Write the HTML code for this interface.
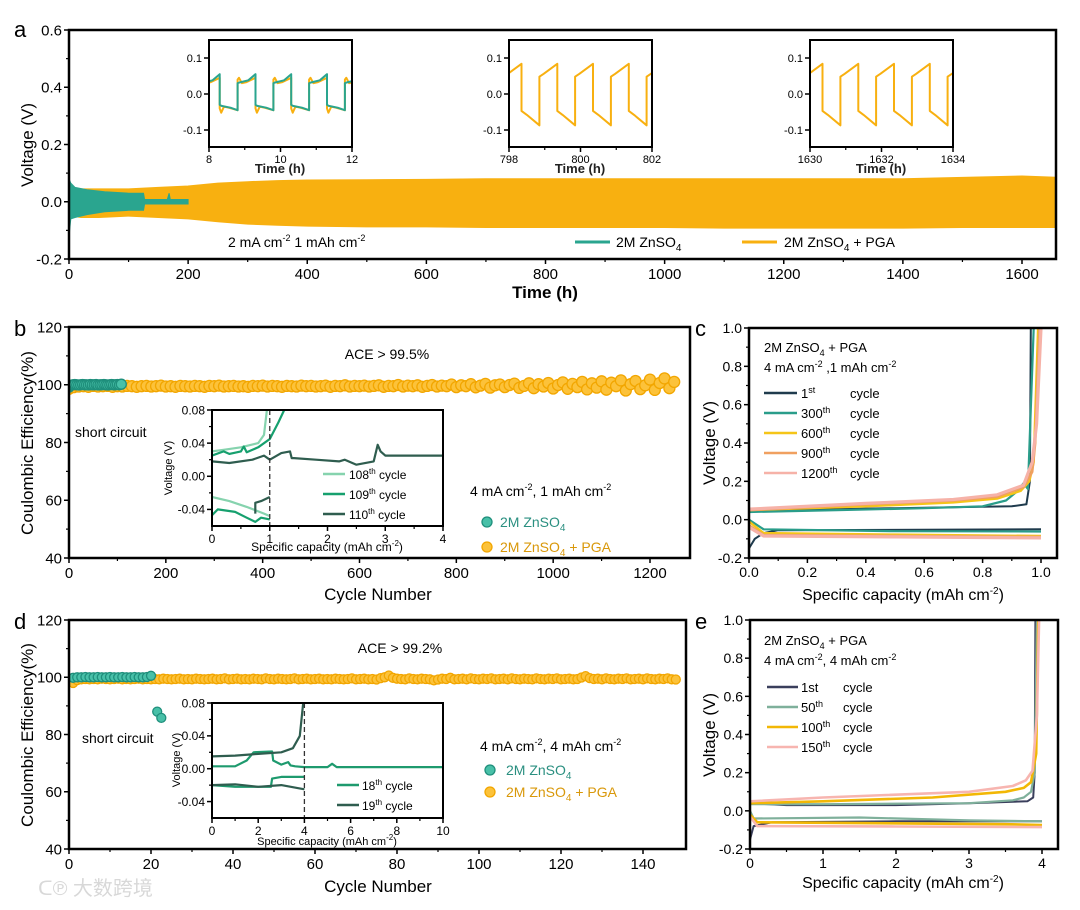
<!DOCTYPE html>
<html><head><meta charset="utf-8">
<style>
html,body{margin:0;padding:0;background:#fff;}
svg{display:block;font-family:"Liberation Sans","Noto Sans CJK SC",sans-serif;}
</style></head>
<body>
<svg id="fig" width="1080" height="910" viewBox="0 0 1080 910" xmlns="http://www.w3.org/2000/svg">
<rect x="0" y="0" width="1080" height="910" fill="#fff"/>
<text x="14" y="37" font-size="22">a</text>
<text x="14" y="336" font-size="22">b</text>
<text x="695" y="336" font-size="22">c</text>
<text x="14" y="629" font-size="22">d</text>
<text x="695" y="629" font-size="22">e</text>

<text x="545" y="298" font-size="17" font-weight="bold" text-anchor="middle">Time (h)</text>
<text transform="translate(33,145) rotate(-90)" font-size="17" text-anchor="middle">Voltage (V)</text>
<text x="228" y="247" font-size="14">2 mA cm<tspan dy="-6" font-size="9">-2</tspan><tspan dy="6"> 1 mAh cm</tspan><tspan dy="-6" font-size="9">-2</tspan></text>
<line x1="575" y1="242" x2="610" y2="242" stroke="#2aa58f" stroke-width="3"/>
<text x="616" y="247" font-size="14">2M ZnSO<tspan dy="4" font-size="10">4</tspan></text>
<line x1="742" y1="242" x2="777" y2="242" stroke="#f8b010" stroke-width="3"/>
<text x="784" y="247" font-size="14">2M ZnSO<tspan dy="4" font-size="10">4</tspan><tspan dy="-4"> + PGA</tspan></text>

<text x="378" y="600" font-size="17" text-anchor="middle">Cycle Number</text>
<text transform="translate(33,443) rotate(-90)" font-size="17" text-anchor="middle">Coulombic Efficiency(%)</text>
<text x="387" y="359" font-size="14" text-anchor="middle">ACE &gt; 99.5%</text>
<text x="75" y="437" font-size="14">short circuit</text>
<text x="470" y="496" font-size="14">4 mA cm<tspan dy="-6" font-size="9">-2</tspan><tspan dy="6">, 1 mAh cm</tspan><tspan dy="-6" font-size="9">-2</tspan></text>
<text x="500" y="527" font-size="14" fill="#2a8f80">2M ZnSO<tspan dy="4" font-size="10">4</tspan></text>
<text x="500" y="552" font-size="14" fill="#d9980a">2M ZnSO<tspan dy="4" font-size="10">4</tspan><tspan dy="-4"> + PGA</tspan></text>

<text x="903" y="600" font-size="16" text-anchor="middle">Specific capacity (mAh cm<tspan dy="-6" font-size="10">-2</tspan><tspan dy="6">)</tspan></text>
<text transform="translate(715,443) rotate(-90)" font-size="17" text-anchor="middle">Voltage (V)</text>
<text x="764" y="352" font-size="13">2M ZnSO<tspan dy="4" font-size="9">4</tspan><tspan dy="-4"> + PGA</tspan></text>
<text x="764" y="372" font-size="13">4 mA cm<tspan dy="-5" font-size="9">-2</tspan><tspan dy="5"> ,1 mAh cm</tspan><tspan dy="-5" font-size="9">-2</tspan></text>

<text x="378" y="892" font-size="17" text-anchor="middle">Cycle Number</text>
<text transform="translate(33,735) rotate(-90)" font-size="17" text-anchor="middle">Coulombic Efficiency(%)</text>
<text x="400" y="653" font-size="14" text-anchor="middle">ACE &gt; 99.2%</text>
<text x="82" y="743" font-size="14">short circuit</text>
<text x="480" y="751" font-size="14">4 mA cm<tspan dy="-6" font-size="9">-2</tspan><tspan dy="6">, 4 mAh cm</tspan><tspan dy="-6" font-size="9">-2</tspan></text>
<text x="506" y="775" font-size="14" fill="#2a8f80">2M ZnSO<tspan dy="4" font-size="10">4</tspan></text>
<text x="506" y="797" font-size="14" fill="#d9980a">2M ZnSO<tspan dy="4" font-size="10">4</tspan><tspan dy="-4"> + PGA</tspan></text>

<text x="903" y="888" font-size="16" text-anchor="middle">Specific capacity (mAh cm<tspan dy="-6" font-size="10">-2</tspan><tspan dy="6">)</tspan></text>
<text transform="translate(715,735) rotate(-90)" font-size="17" text-anchor="middle">Voltage (V)</text>
<text x="764" y="645" font-size="13">2M ZnSO<tspan dy="4" font-size="9">4</tspan><tspan dy="-4"> + PGA</tspan></text>
<text x="764" y="665" font-size="13">4 mA cm<tspan dy="-5" font-size="9">-2</tspan><tspan dy="5">, 4 mAh cm</tspan><tspan dy="-5" font-size="9">-2</tspan></text>

<text x="38" y="895" font-size="20" fill="#d8d8d8">ᑕ℗ 大数跨境</text>
</svg>
<script>
const aTimePGA=[0,2,5,20,50,100,150,200,250,300,350,400,500,600,700,800,900,1000,1100,1200,1300,1400,1500,1600,1665];
const aUpPGA=[0.05,0.05,0.05,0.045,0.045,0.045,0.05,0.055,0.065,0.07,0.074,0.076,0.077,0.078,0.08,0.08,0.08,0.08,0.08,0.08,0.08,0.08,0.085,0.09,0.085];
const aLoPGA=[-0.05,-0.05,-0.05,-0.055,-0.055,-0.05,-0.055,-0.06,-0.07,-0.078,-0.082,-0.085,-0.088,-0.088,-0.09,-0.09,-0.09,-0.09,-0.092,-0.092,-0.092,-0.092,-0.09,-0.09,-0.09];
const aTimeZn=[0,1,3,10,30,60,100,125,127,165,168,170,172,175,200];
const aUpZn=[0.0,0.075,0.065,0.05,0.042,0.035,0.03,0.03,0.008,0.008,0.03,0.008,0.008,0.008,0.008];
const aLoZn=[-0.15,-0.1,-0.06,-0.055,-0.045,-0.035,-0.03,-0.03,-0.008,-0.008,-0.008,-0.008,-0.008,-0.008,-0.008];
const aXTicks=[0,200,400,600,800,1000,1200,1400,1600];
const aYTicks=[-0.2,0.0,0.2,0.4,0.6];
const tealUpPhase=[0,0.05,0.3,0.5], tealUpV=[0.03,0.032,0.038,0.055];
const tealDnPhase=[0,0.05,0.3,0.5], tealDnV=[-0.03,-0.033,-0.038,-0.045];
const orgUpPhase=[0,0.04,0.12,0.25,0.5], orgUpV=[0.04,0.045,0.03,0.033,0.045];
const orgDnPhase=[0,0.04,0.12,0.25,0.5], orgDnV=[-0.04,-0.052,-0.035,-0.038,-0.045];
const longUpPhase=[0,0.12,0.5], longUpV=[0.048,0.056,0.084];
const longDnPhase=[0,0.15,0.5], longDnV=[-0.047,-0.058,-0.087];
const inset1Starts=[7.8,8.8,9.8,10.8,11.8];
const inset2Starts=[797.85,798.85,799.85,800.85,801.85];
const inset3Starts=[1629.85,1630.85,1631.85,1632.85,1633.85];
const bCyclesPGA=[];for(let i=0;i<=125;i++)bCyclesPGA.push(i*10);
const bCEPGA=[98.6,99.2,99.4,99.5,99.3,99.6,99.4,99.5,99.6,99.3,99.5,99.4,99.6,99.5,99.3,99.5,99.6,99.4,99.5,99.7,99.4,99.5,99.3,99.6,99.5,99.4,99.6,99.5,99.3,99.6,99.5,99.7,99.4,99.5,99.6,99.4,99.5,99.3,99.6,99.5,99.7,99.4,99.6,99.5,99.3,99.6,99.5,99.4,99.7,99.5,99.6,99.4,99.5,99.7,99.3,99.6,99.5,99.8,99.4,99.6,99.5,99.7,99.4,99.6,99.8,99.3,99.6,99.5,99.9,99.4,99.7,99.5,99.8,99.3,99.6,99.9,99.4,99.7,99.5,100.1,99.2,99.8,99.5,100.2,99.1,99.7,100.3,99.0,99.8,100.1,99.2,99.9,100.4,98.9,99.6,100.5,98.8,100.2,99.4,100.6,98.7,99.9,100.8,98.6,100.3,99.2,101.0,98.4,100.5,99.0,101.2,98.3,100.7,99.5,101.5,98.0,100.2,101.3,98.5,99.8,101.8,98.2,100.6,102.2,98.8,101.0];
const bCyclesZn=[];for(let i=0;i<=27;i++)bCyclesZn.push(i*4);
const bCEZn=[99.2,99.8,100.0,100.1,100.0,99.9,100.0,100.1,100.0,100.0,99.9,100.1,100.0,100.0,100.1,99.9,100.0,100.0,100.1,100.0,99.9,100.0,100.1,100.0,100.0,100.1,100.0,100.2];
const bXTicks=[0,200,400,600,800,1000,1200];
const bYTicks=[40,60,80,100,120];
const ibCap108c=[0,0.2,0.5,0.8,0.9,0.95], ibV108c=[0.03,0.032,0.035,0.04,0.05,0.08];
const ibCap108d=[0,0.3,0.6,0.9,1.0], ibV108d=[-0.025,-0.03,-0.037,-0.045,-0.048];
const ibCap109c=[0,0.2,0.3,0.5,0.55,0.6,0.8,1.0,1.15,1.25], ibV109c=[0.025,0.03,0.027,0.03,0.036,0.029,0.035,0.045,0.065,0.08];
const ibCap109d=[0,0.1,0.4,0.6,0.75,0.85,1.0], ibV109d=[-0.047,-0.04,-0.043,-0.05,-0.055,-0.05,-0.052];
const ibCap110c=[0,0.3,0.7,0.9,1.0,1.2,1.35,1.38,1.42,1.8,2.2,2.3,2.5,2.8,2.87,2.92,3.0,4.0], ibV110c=[0.018,0.016,0.02,0.025,0.02,0.028,0.03,0.022,0.022,0.02,0.018,0.02,0.014,0.018,0.038,0.03,0.025,0.025];
const ibCap110d=[0.75,0.75,0.85,1.0], ibV110d=[-0.045,-0.032,-0.03,-0.025];
const ibXTicks=[0,1,2,3,4];
const ibYTicks=[-0.04,0.0,0.04,0.08];
const ibYLabels=["-0.04","0.00","0.04","0.08"];
const cCap1c=[0,0.1,0.5,0.9,0.95,0.962,0.965], cV1c=[0.04,0.05,0.06,0.07,0.08,0.2,1.0];
const cCap1d=[0,0.02,0.05,0.1,1.0], cV1d=[-0.15,-0.1,-0.07,-0.055,-0.05];
const cCap300c=[0,0.3,0.6,0.8,0.88,0.92,0.94,0.955,0.975], cV300c=[0.04,0.05,0.06,0.07,0.1,0.15,0.19,0.16,1.0];
const cCap300d=[0,0.05,0.5,1.0], cV300d=[0,-0.05,-0.06,-0.062];
const cCap600c=[0,0.4,0.7,0.85,0.93,0.96,0.975,0.99], cV600c=[0.05,0.07,0.09,0.11,0.15,0.2,0.3,1.0];
const cCap600d=[0,0.05,0.5,1.0], cV600d=[-0.01,-0.07,-0.078,-0.085];
const cCap900c=[0,0.4,0.7,0.85,0.94,0.97,0.98,0.995], cV900c=[0.05,0.08,0.1,0.12,0.17,0.25,0.4,1.0];
const cCap900d=[0,0.05,0.5,1.0], cV900d=[-0.03,-0.08,-0.085,-0.09];
const cCap1200c=[0,0.4,0.7,0.85,0.94,0.97,0.985,1.0], cV1200c=[0.055,0.085,0.105,0.13,0.18,0.3,0.5,1.0];
const cCap1200d=[0,0.05,0.5,1.0], cV1200d=[-0.04,-0.085,-0.09,-0.095];
const cXTicks=[0,0.2,0.4,0.6,0.8,1.0];
const cXLabels=["0.0","0.2","0.4","0.6","0.8","1.0"];
const vYTicks=[-0.2,0,0.2,0.4,0.6,0.8,1.0];
const vYLabels=["-0.2","0.0","0.2","0.4","0.6","0.8","1.0"];
const dCyclesPGA=[];for(let i=1;i<=148;i++)dCyclesPGA.push(i);
const dCEPGA=[98.0,99.0,99.3,99.4,99.3,99.4,99.3,99.5,99.4,99.3,99.4,99.5,99.3,99.4,99.3,99.4,99.5,99.3,99.4,99.3,99.4,99.3,99.5,99.4,99.3,99.4,99.5,99.3,99.4,99.3,99.5,99.4,99.3,99.4,99.5,99.3,99.4,99.6,99.3,99.4,99.5,99.3,99.4,99.3,99.5,99.4,99.3,99.6,99.4,99.3,99.5,99.4,99.3,99.4,99.6,99.3,99.4,99.5,99.3,99.4,99.5,99.3,99.4,99.3,99.5,99.4,99.3,99.4,99.6,99.3,99.4,99.5,99.3,99.4,99.2,99.7,100.0,100.6,99.8,99.5,99.4,99.3,99.6,99.4,99.3,99.5,99.4,99.3,98.9,99.2,99.5,99.4,99.8,99.3,99.4,99.5,99.3,99.6,99.4,99.3,99.5,99.4,99.6,99.3,99.4,99.5,99.3,99.6,99.4,99.3,99.5,99.4,99.3,99.6,99.4,99.3,99.5,99.4,99.6,99.3,99.4,99.5,99.3,99.4,99.9,100.4,99.7,99.4,99.5,99.3,99.6,99.4,99.3,99.5,99.4,99.6,99.3,99.4,99.5,99.3,99.6,99.4,99.3,99.5,99.4,99.6,99.3,99.2];
const dCyclesZn=[1,2,3,4,5,6,7,8,9,10,11,12,13,14,15,16,17,18,19,20,21.5,22.5];
const dCEZn=[99.8,100.0,100.0,100.1,100.0,100.0,100.1,100.0,100.0,100.1,100.0,100.0,100.1,100.0,100.0,100.1,100.0,100.0,100.1,100.5,88.0,85.8];
const dXTicks=[0,20,40,60,80,100,120,140];
const dYTicks=[40,60,80,100,120];
const idCap18c=[0,1,1.5,1.8,2.6,2.65,3.0,3.3,3.4,3.6,4,5,5.2,5.4,10], idV18c=[0.003,0.003,0.01,0.02,0.021,0.01,0.005,0.008,0.004,0.003,0.002,0.002,0.006,0.002,0.002];
const idCap18d=[0,1,2.55,2.6,3,4], idV18d=[-0.02,-0.022,-0.022,-0.012,-0.01,-0.01];
const idCap19c=[0,1,2,3,3.5,3.8,3.95], idV19c=[0.015,0.016,0.018,0.02,0.025,0.04,0.08];
const idCap19d=[0,1,2,3,4], idV19d=[-0.02,-0.019,-0.022,-0.02,-0.025];
const idXTicks=[0,2,4,6,8,10];
const eCap1c=[0,0.5,2,3,3.8,3.88,3.9,3.91], eV1c=[0.04,0.03,0.03,0.04,0.05,0.07,0.2,1.0];
const eCap1d=[0,0.05,0.3,2,4], eV1d=[-0.15,-0.08,-0.06,-0.055,-0.055];
const eCap50c=[0,1,3,3.6,3.75,3.85,3.9,3.93], eV50c=[0.035,0.035,0.04,0.055,0.07,0.1,0.2,1.0];
const eCap50d=[0,0.05,1.5,3,4], eV50d=[0,-0.04,-0.035,-0.05,-0.055];
const eCap100c=[0,1,2.5,3.5,3.75,3.85,3.92,3.95], eV100c=[0.04,0.05,0.07,0.1,0.12,0.15,0.3,1.0];
const eCap100d=[0,0.1,3.5,4], eV100d=[-0.02,-0.06,-0.07,-0.075];
const eCap150c=[0,1,3,3.6,3.78,3.87,3.93,3.96], eV150c=[0.05,0.07,0.1,0.13,0.16,0.21,0.5,1.0];
const eCap150d=[0,0.1,2,4], eV150d=[-0.03,-0.08,-0.082,-0.085];
const eXTicks=[0,1,2,3,4];

const NS='http://www.w3.org/2000/svg';
const svg=document.getElementById('fig');
function mk(tag,attrs,name,parent){
  const el=document.createElementNS(NS,tag);
  for(const k in attrs)el.setAttribute(k,attrs[k]);
  
  
  (parent||svg).appendChild(el);return el;}
function lin(d0,d1,r0,r1){return v=>r0+(v-d0)/(d1-d0)*(r1-r0);}
function fmt(v,dec){return v.toFixed(dec);}
function axes(p,box,xs,ys,xt,xl,yt,yl,fs,xminor,yminor){
  const g=mk('g',{},p+'-axes');
  xt.forEach((v,i)=>{const x=xs(v);
    mk('line',{x1:x,y1:box.y1,x2:x,y2:box.y1+5,stroke:'#000','stroke-width':1.5},p+'-x-tick',g);
    const t=mk('text',{x:x,y:box.y1+fs+5,'font-size':fs,'text-anchor':'middle'},p+'-x-tick-label',g);t.textContent=xl[i];});
  (xminor||[]).forEach(v=>{const x=xs(v);mk('line',{x1:x,y1:box.y1,x2:x,y2:box.y1+3,stroke:'#000','stroke-width':1.2},p+'-x-minor-tick',g);});
  yt.forEach((v,i)=>{const y=ys(v);
    mk('line',{x1:box.x0,y1:y,x2:box.x0-5,y2:y,stroke:'#000','stroke-width':1.5},p+'-y-tick',g);
    const t=mk('text',{x:box.x0-7,y:y+fs*0.36,'font-size':fs,'text-anchor':'end'},p+'-y-tick-label',g);t.textContent=yl[i];});
  (yminor||[]).forEach(v=>{const y=ys(v);mk('line',{x1:box.x0,y1:y,x2:box.x0-3,y2:y,stroke:'#000','stroke-width':1.2},p+'-y-minor-tick',g);});
  return g;}
function frame(p,box,w){mk('rect',{x:box.x0,y:box.y0,width:box.x1-box.x0,height:box.y1-box.y0,fill:'none',stroke:'#000','stroke-width':w},p+'-frame');}
function clip(id,box){const c=mk('clipPath',{id:id},id);mk('rect',{x:box.x0,y:box.y0,width:box.x1-box.x0,height:box.y1-box.y0},id+'-rect',c);}
function line(xs,ys,X,Y,color,w,name,cp){
  const pts=X.map((x,i)=>xs(x).toFixed(1)+','+ys(Y[i]).toFixed(1)).join(' ');
  const a={points:pts,fill:'none',stroke:color,'stroke-width':w,'stroke-linejoin':'round'};if(cp)a['clip-path']='url(#'+cp+')';
  return mk('polyline',a,name);}
function waveXY(starts,upP,upV,dnP,dnV){const X=[],Y=[];
  starts.forEach(s=>{upP.forEach((p,i)=>{X.push(s+p);Y.push(upV[i]);});dnP.forEach((p,i)=>{X.push(s+0.5+p);Y.push(dnV[i]);});});return [X,Y];}
function dots(xs,ys,X,Y,fill,stroke,r,name,cp){const g=mk('g',cp?{'clip-path':'url(#'+cp+')'}:{},name+'-group');
  X.forEach((x,i)=>{mk('circle',{cx:xs(x).toFixed(1),cy:ys(Y[i]).toFixed(1),r:r,fill:fill,stroke:stroke,'stroke-width':1.3},name,g);});}

const aBox={x0:69,x1:1056,y0:30,y1:259};
const ax=lin(0,1600,69,1022), ay=lin(-0.2,0.6,259,30);
clip('clip-a',aBox);
function band(T,U,L,color,name){const pts=[];T.forEach((t,i)=>pts.push(ax(t).toFixed(1)+','+ay(U[i]).toFixed(1)));
  for(let i=T.length-1;i>=0;i--)pts.push(ax(T[i]).toFixed(1)+','+ay(L[i]).toFixed(1));
  mk('polygon',{points:pts.join(' '),fill:color,stroke:color,'stroke-width':1,'clip-path':'url(#clip-a)'},name);}
band(aTimePGA,aUpPGA,aLoPGA,'#f8b010','a-band-pga');
band(aTimeZn,aUpZn,aLoZn,'#2aa58f','a-band-znso4');
axes('a',aBox,ax,ay,aXTicks,aXTicks.map(String),aYTicks,aYTicks.map(v=>fmt(v,1)),15,[100,300,500,700,900,1100,1300,1500],[-0.1,0.1,0.3,0.5]);
frame('a',aBox,2.5);
function insetA(p,x0,t0,starts,teal){
  const box={x0:x0,x1:x0+143,y0:40,y1:147};
  const xs=lin(t0,t0+4,x0,x0+143), ys=lin(-0.1,0.1,130,58);
  mk('rect',{x:box.x0,y:box.y0,width:143,height:107,fill:'#fff'},p+'-bg');
  clip('clip-'+p,box);
  if(teal){let w=waveXY(starts,orgUpPhase,orgUpV,orgDnPhase,orgDnV);line(xs,ys,w[0],w[1],'#f8b010',2,p+'-line-pga','clip-'+p);
    w=waveXY(starts,tealUpPhase,tealUpV,tealDnPhase,tealDnV);line(xs,ys,w[0],w[1],'#2aa58f',2,p+'-line-znso4','clip-'+p);}
  else{const w=waveXY(starts,longUpPhase,longUpV,longDnPhase,longDnV);line(xs,ys,w[0],w[1],'#f8b010',2,p+'-line-pga','clip-'+p);}
  const xt=[t0,t0+2,t0+4];
  axes(p,box,xs,ys,xt,xt.map(String),[-0.1,0,0.1],['-0.1','0.0','0.1'],11,[t0+1,t0+3],[]);
  frame(p,box,2);
  const t=mk('text',{x:x0+71,y:173,'font-size':13,'font-weight':'bold','text-anchor':'middle','fill':'#222'},p+'-x-title');t.textContent='Time (h)';}
insetA('a-inset-1',209,8,inset1Starts,true);
insetA('a-inset-2',509,798,inset2Starts,false);
insetA('a-inset-3',810,1630,inset3Starts,false);

const bBox={x0:69,x1:690,y0:327,y1:558};
const bx=lin(0,1200,69,650), by=lin(40,120,558,327);
clip('clip-b',bBox);
dots(bx,by,bCyclesPGA,bCEPGA,'#fcc23a','#f2a600',5.5,'b-point-pga','clip-b');
dots(bx,by,bCyclesZn,bCEZn,'#48c0a8','#1f8f7c',5,'b-point-znso4','clip-b');
axes('b',bBox,bx,by,bXTicks,bXTicks.map(String),bYTicks,bYTicks.map(String),15,[100,300,500,700,900,1100],[50,70,90,110]);
frame('b',bBox,2.5);
mk('circle',{cx:487,cy:522,r:5,fill:'#48c0a8',stroke:'#1f8f7c','stroke-width':1.3},'b-legend-marker-znso4');
mk('circle',{cx:487,cy:547,r:5,fill:'#fcc23a',stroke:'#f2a600','stroke-width':1.3},'b-legend-marker-pga');
const ibBox={x0:212,x1:443,y0:410,y1:526};
const ibx=lin(0,4,212,443), iby=lin(-0.06,0.08,526,410);
mk('rect',{x:212,y:410,width:231,height:116,fill:'#fff'},'b-inset-bg');
clip('clip-ib',ibBox);
line(ibx,iby,ibCap108c,ibV108c,'#86d3ae',2.2,'b-inset-108-charge','clip-ib');
line(ibx,iby,ibCap108d,ibV108d,'#86d3ae',2.2,'b-inset-108-discharge','clip-ib');
line(ibx,iby,ibCap109c,ibV109c,'#16a06e',2.2,'b-inset-109-charge','clip-ib');
line(ibx,iby,ibCap109d,ibV109d,'#16a06e',2.2,'b-inset-109-discharge','clip-ib');
line(ibx,iby,ibCap110c,ibV110c,'#2f5d4f',2.2,'b-inset-110-charge','clip-ib');
line(ibx,iby,ibCap110d,ibV110d,'#2f5d4f',2.2,'b-inset-110-discharge','clip-ib');
mk('line',{x1:ibx(1),y1:410,x2:ibx(1),y2:526,stroke:'#333','stroke-width':1.3,'stroke-dasharray':'5,3'},'b-inset-dashed-line');
axes('b-inset',ibBox,ibx,iby,ibXTicks,ibXTicks.map(String),ibYTicks,ibYLabels,12,[0.5,1.5,2.5,3.5],[-0.02,0.02,0.06]);
frame('b-inset',ibBox,2);
[['#86d3ae','108'],['#16a06e','109'],['#2f5d4f','110']].forEach((c,i)=>{const y=474+i*20;
  mk('line',{x1:323,y1:y,x2:345,y2:y,stroke:c[0],'stroke-width':2.5},'b-inset-legend-line');
  const t=mk('text',{x:349,y:y+5,'font-size':12},'b-inset-legend-text');t.innerHTML=c[1]+'<tspan dy="-5" font-size="8">th</tspan><tspan dy="5">  cycle</tspan>';});
{const t=mk('text',{x:327,y:551,'font-size':12,'text-anchor':'middle'},'b-inset-x-title');t.innerHTML='Specific capacity (mAh cm<tspan dy="-5" font-size="8">-2</tspan><tspan dy="5">)</tspan>';
 const t2=mk('text',{transform:'translate(172,468) rotate(-90)','font-size':11,'text-anchor':'middle'},'b-inset-y-title');t2.textContent='Voltage (V)';}

const cBox={x0:749,x1:1057,y0:328,y1:558};
const cx=lin(0,1,749,1041), cy=lin(-0.2,1,558,328);
clip('clip-c',cBox);
const cSeries=[[cCap1c,cV1c,cCap1d,cV1d,'#1f3b4d',2,'1st'],[cCap300c,cV300c,cCap300d,cV300d,'#2a9d8a',2.2,'300th'],[cCap600c,cV600c,cCap600d,cV600d,'#f5c518',2.4,'600th'],[cCap900c,cV900c,cCap900d,cV900d,'#f0a060',2.6,'900th'],[cCap1200c,cV1200c,cCap1200d,cV1200d,'#f6b2a8',3.2,'1200th']];
cSeries.forEach(s=>{line(cx,cy,s[0],s[1],s[4],s[5],'c-charge-'+s[6],'clip-c');line(cx,cy,s[2],s[3],s[4],s[5],'c-discharge-'+s[6],'clip-c');});
axes('c',cBox,cx,cy,cXTicks,cXLabels,vYTicks,vYLabels,14,[0.1,0.3,0.5,0.7,0.9],[-0.1,0.1,0.3,0.5,0.7,0.9]);
frame('c',cBox,2.5);
[['#1f3b4d','1','st'],['#2a9d8a','300','th'],['#f5c518','600','th'],['#f0a060','900','th'],['#f6b2a8','1200','th']].forEach((c,i)=>{const y=393+i*20;
  mk('line',{x1:764,y1:y,x2:797,y2:y,stroke:c[0],'stroke-width':2.5},'c-legend-line');
  const t=mk('text',{x:801,y:y+5,'font-size':13},'c-legend-text');t.innerHTML=c[1]+'<tspan dy="-5" font-size="9">'+c[2]+'</tspan>';
  const t2=mk('text',{x:850,y:y+5,'font-size':13},'c-legend-cycle');t2.textContent='cycle';});

const dBox={x0:69,x1:686,y0:620,y1:849};
const dx=lin(0,140,69,643), dy=lin(40,120,849,620);
clip('clip-d',dBox);
dots(dx,dy,dCyclesPGA,dCEPGA,'#fcc23a','#f2a600',4.5,'d-point-pga','clip-d');
dots(dx,dy,dCyclesZn,dCEZn,'#48c0a8','#1f8f7c',4.5,'d-point-znso4','clip-d');
axes('d',dBox,dx,dy,dXTicks,dXTicks.map(String),dYTicks,dYTicks.map(String),15,[10,30,50,70,90,110,130],[50,70,90,110]);
frame('d',dBox,2.5);
mk('circle',{cx:490,cy:770,r:5,fill:'#48c0a8',stroke:'#1f8f7c','stroke-width':1.3},'d-legend-marker-znso4');
mk('circle',{cx:490,cy:792,r:5,fill:'#fcc23a',stroke:'#f2a600','stroke-width':1.3},'d-legend-marker-pga');
const idBox={x0:212,x1:443,y0:703,y1:818};
const idx=lin(0,10,212,443), idy=lin(-0.06,0.08,818,703);
mk('rect',{x:212,y:703,width:231,height:115,fill:'#fff'},'d-inset-bg');
clip('clip-id',idBox);
line(idx,idy,idCap18c,idV18c,'#1e9a6e',2.2,'d-inset-18-charge','clip-id');
line(idx,idy,idCap18d,idV18d,'#1e9a6e',2.2,'d-inset-18-discharge','clip-id');
line(idx,idy,idCap19c,idV19c,'#2f5d4f',2.2,'d-inset-19-charge','clip-id');
line(idx,idy,idCap19d,idV19d,'#2f5d4f',2.2,'d-inset-19-discharge','clip-id');
mk('line',{x1:idx(4),y1:703,x2:idx(4),y2:818,stroke:'#333','stroke-width':1.3,'stroke-dasharray':'5,3'},'d-inset-dashed-line');
axes('d-inset',idBox,idx,idy,idXTicks,idXTicks.map(String),ibYTicks,ibYLabels,12,[1,3,5,7,9],[-0.02,0.02,0.06]);
frame('d-inset',idBox,2);
[['#1e9a6e','18'],['#2f5d4f','19']].forEach((c,i)=>{const y=785+i*20;
  mk('line',{x1:337,y1:y,x2:359,y2:y,stroke:c[0],'stroke-width':2.5},'d-inset-legend-line');
  const t=mk('text',{x:362,y:y+5,'font-size':12},'d-inset-legend-text');t.innerHTML=c[1]+'<tspan dy="-5" font-size="8">th</tspan><tspan dy="5">  cycle</tspan>';});
{const t=mk('text',{x:327,y:845,'font-size':11,'text-anchor':'middle'},'d-inset-x-title');t.innerHTML='Specific capacity (mAh cm<tspan dy="-5" font-size="8">-2</tspan><tspan dy="5">)</tspan>';
 const t2=mk('text',{transform:'translate(180,760) rotate(-90)','font-size':11,'text-anchor':'middle'},'d-inset-y-title');t2.textContent='Voltage (V)';}

const eBox={x0:750,x1:1058,y0:620,y1:849};
const ex=lin(0,4,750,1042), ey=lin(-0.2,1,849,620);
clip('clip-e',eBox);
const eSeries=[[eCap1c,eV1c,eCap1d,eV1d,'#3a3f5c',2,'1st'],[eCap50c,eV50c,eCap50d,eV50d,'#7fb09b',2.2,'50th'],[eCap100c,eV100c,eCap100d,eV100d,'#f2b705',2.6,'100th'],[eCap150c,eV150c,eCap150d,eV150d,'#f7b5b0',2.6,'150th']];
eSeries.forEach(s=>{line(ex,ey,s[0],s[1],s[4],s[5],'e-charge-'+s[6],'clip-e');line(ex,ey,s[2],s[3],s[4],s[5],'e-discharge-'+s[6],'clip-e');});
axes('e',eBox,ex,ey,eXTicks,eXTicks.map(String),vYTicks,vYLabels,14,[0.5,1.5,2.5,3.5],[-0.1,0.1,0.3,0.5,0.7,0.9]);
frame('e',eBox,2.5);
[['#3a3f5c','1st',''],['#7fb09b','50','th'],['#f2b705','100','th'],['#f7b5b0','150','th']].forEach((c,i)=>{const y=687+i*20;
  mk('line',{x1:767,y1:y,x2:798,y2:y,stroke:c[0],'stroke-width':2.5},'e-legend-line');
  const t=mk('text',{x:801,y:y+5,'font-size':13},'e-legend-text');t.innerHTML=c[1]+(c[2]?'<tspan dy="-5" font-size="9">'+c[2]+'</tspan>':'');
  const t2=mk('text',{x:843,y:y+5,'font-size':13},'e-legend-cycle');t2.textContent='cycle';});
</script>
</body></html>
